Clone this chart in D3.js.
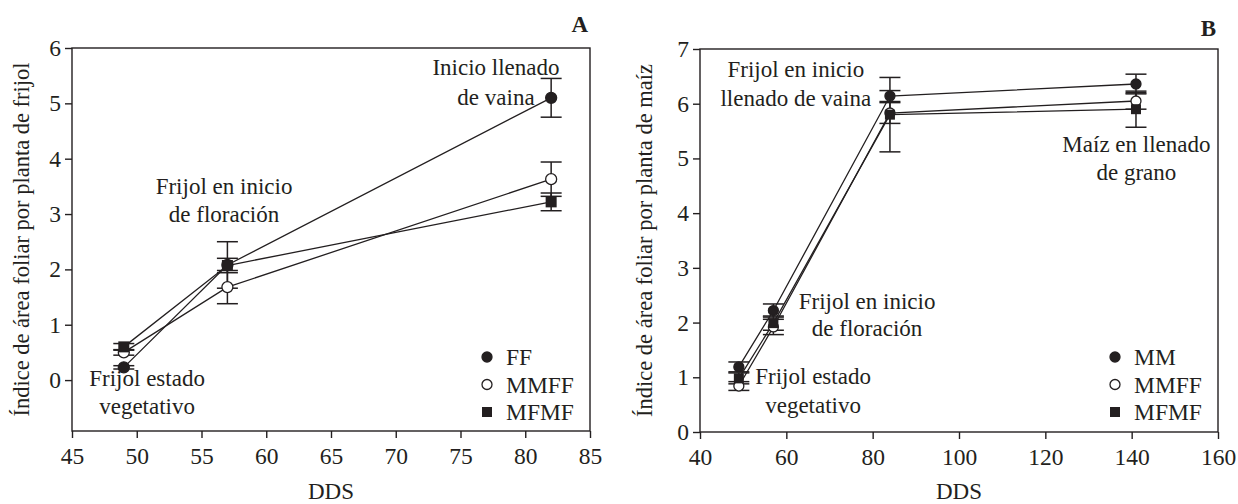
<!DOCTYPE html>
<html>
<head>
<meta charset="utf-8">
<script src="https://cdn.jsdelivr.net/npm/d3@7"></script>
<style>
  body { margin: 0; background: #fff; }
  svg { display: block; }
  text { font-family: "Liberation Serif", "Times New Roman", serif; fill: #231f20; }
  .axis path, .axis line { stroke: #231f20; stroke-width: 1.4; }
  .axis text { font-size: 23.5px; font-family: "Liberation Serif", serif; }
</style>
</head>
<body>
<svg id="chart" width="1238" height="504"></svg>
<script>
// ---- data, panel A (bean LAI) ----
var daysA = [49, 57, 82];
var ffA = [0.23, 2.08, 5.1],   ffErrA = [0.03, 0.42, 0.35];
var mmffA = [0.5, 1.68, 3.63], mmffErrA = [0.05, 0.3, 0.31];
var mfmfA = [0.6, 2.07, 3.22], mfmfErrA = [0.06, 0.13, 0.16];
var xTicksA = [45, 50, 55, 60, 65, 70, 75, 80, 85];
var yTicksA = [0, 1, 2, 3, 4, 5, 6];

// ---- data, panel B (maize LAI) ----
var daysB = [49, 57, 84, 141];
var mmB = [1.19, 2.22, 6.14, 6.36],   mmErrB = [0.09, 0.12, 0.1, 0.18];
var mmffB = [0.84, 1.92, 5.83, 6.05], mmffErrB = [0.08, 0.14, 0.19, 0.15];
var mfmfB = [0.98, 1.99, 5.8, 5.9],   mfmfErrB = [0.1, 0.13, 0.68, 0.33];
var xTicksB = [40, 60, 80, 100, 120, 140, 160];
var yTicksB = [0, 1, 2, 3, 4, 5, 6, 7];

var ink = "#231f20";
var svg = d3.select("#chart");

function drawPanel(cfg) {
  var g = svg.append("g");
  var x = d3.scaleLinear().domain(cfg.xDomain).range([cfg.left, cfg.right]);
  var y = d3.scaleLinear().domain(cfg.yDomain).range([cfg.bottom, cfg.top]);

  // frame
  g.append("rect")
    .attr("x", cfg.left).attr("y", cfg.top)
    .attr("width", cfg.right - cfg.left).attr("height", cfg.bottom - cfg.top)
    .attr("fill", "none").attr("stroke", ink).attr("stroke-width", 1.4);

  g.append("g").attr("class", "axis")
    .attr("transform", "translate(0," + cfg.bottom + ")")
    .call(d3.axisBottom(x).tickValues(cfg.xTicks).tickFormat(d3.format("d"))
      .tickSize(7).tickSizeOuter(0).tickPadding(9))
    .call(s => s.select(".domain").remove());

  g.append("g").attr("class", "axis")
    .attr("transform", "translate(" + cfg.left + ",0)")
    .call(d3.axisLeft(y).tickValues(cfg.yTicks).tickFormat(d3.format("d"))
      .tickSize(7).tickSizeOuter(0).tickPadding(4))
    .call(s => s.select(".domain").remove());

  // axis titles
  g.append("text")
    .attr("x", (cfg.left + cfg.right) / 2).attr("y", 499)
    .attr("text-anchor", "middle").style("font-size", "23px")
    .text("DDS");
  g.append("text")
    .attr("transform", "translate(" + cfg.yLabelX + "," + ((cfg.top + cfg.bottom) / 2) + ") rotate(-90)")
    .attr("text-anchor", "middle").style("font-size", "22.5px")
    .text(cfg.yLabel);

  // panel letter
  g.append("text")
    .attr("x", cfg.right - 2).attr("y", cfg.letterY)
    .attr("text-anchor", "end").style("font-size", "23px").style("font-weight", "bold")
    .text(cfg.letter);

  var line = d3.line().x(d => x(d[0])).y(d => y(d[1]));

  cfg.series.forEach(function(s) {
    var pts = cfg.days.map((d, i) => [d, s.values[i], s.err[i]]);
    g.append("path").datum(pts)
      .attr("d", line).attr("fill", "none").attr("stroke", ink).attr("stroke-width", 1.3);

    // error bars
    var eb = g.append("g").selectAll("g").data(pts).enter().append("g");
    eb.append("line")
      .attr("x1", d => x(d[0])).attr("x2", d => x(d[0]))
      .attr("y1", d => y(d[1] - d[2])).attr("y2", d => y(d[1] + d[2]))
      .attr("stroke", ink).attr("stroke-width", 1.5);
    [-1, 1].forEach(function(sign) {
      eb.append("line")
        .attr("x1", d => x(d[0]) - cfg.cap).attr("x2", d => x(d[0]) + cfg.cap)
        .attr("y1", d => y(d[1] + sign * d[2])).attr("y2", d => y(d[1] + sign * d[2]))
        .attr("stroke", ink).attr("stroke-width", 1.5);
    });
  });

  // markers on top
  cfg.series.forEach(function(s) {
    var pts = cfg.days.map((d, i) => [d, s.values[i]]);
    drawMarkers(g, pts.map(p => [x(p[0]), y(p[1])]), s.shape, cfg.markerR);
  });

  // legend
  cfg.series.forEach(function(s, i) {
    var ly = cfg.legendY + i * 27.5;
    drawMarkers(g, [[cfg.legendX, ly]], s.shape, 5);
    g.append("text")
      .attr("x", cfg.legendX + 19).attr("y", ly + 8)
      .style("font-size", "23.5px")
      .text(s.name);
  });

  // annotations
  cfg.notes.forEach(function(n) {
    var t = g.append("text")
      .attr("x", x(n.x)).attr("y", y(n.y))
      .attr("text-anchor", n.anchor).style("font-size", "23px");
    n.lines.forEach(function(l, i) {
      t.append("tspan").attr("x", x(n.x)).attr("dy", i ? n.gap : 0).text(l);
    });
  });
}

function drawMarkers(g, pts, shape, r) {
  if (shape === "square") {
    g.selectAll(null).data(pts).enter().append("rect")
      .attr("x", d => d[0] - r).attr("y", d => d[1] - r)
      .attr("width", 2 * r).attr("height", 2 * r)
      .attr("fill", ink);
  } else {
    g.selectAll(null).data(pts).enter().append("circle")
      .attr("cx", d => d[0]).attr("cy", d => d[1]).attr("r", r)
      .attr("fill", shape === "open" ? "#fff" : ink)
      .attr("stroke", ink).attr("stroke-width", 1.3);
  }
}

drawPanel({
  left: 72, right: 590, top: 48, bottom: 431,
  xDomain: [45, 85], yDomain: [-0.92, 6],
  xTicks: xTicksA, yTicks: yTicksA,
  days: daysA, cap: 10.5, markerR: 5.5,
  yLabel: "Índice de área foliar por planta de frijol", yLabelX: 29,
  letter: "A", letterY: 32,
  legendX: 487, legendY: 357,
  series: [
    {name: "FF", values: ffA, err: ffErrA, shape: "filled"},
    {name: "MMFF", values: mmffA, err: mmffErrA, shape: "open"},
    {name: "MFMF", values: mfmfA, err: mfmfErrA, shape: "square"}
  ],
  notes: [
    {x: 77.74, y: 5.51, anchor: "middle", gap: 30, lines: ["Inicio llenado", "de vaina"]},
    {x: 56.74, y: 3.36, anchor: "middle", gap: 28, lines: ["Frijol en inicio", "de floración"]},
    {x: 50.8, y: -0.11, anchor: "middle", gap: 28, lines: ["Frijol estado", "vegetativo"]}
  ]
});

drawPanel({
  left: 700, right: 1218, top: 49, bottom: 432,
  xDomain: [40, 160], yDomain: [0, 7],
  xTicks: xTicksB, yTicks: yTicksB,
  days: daysB, cap: 10.5, markerR: 5,
  yLabel: "Índice de área foliar por planta de maíz", yLabelX: 652,
  letter: "B", letterY: 36,
  legendX: 1115, legendY: 357,
  series: [
    {name: "MM", values: mmB, err: mmErrB, shape: "filled"},
    {name: "MMFF", values: mmffB, err: mmffErrB, shape: "open"},
    {name: "MFMF", values: mfmfB, err: mfmfErrB, shape: "square"}
  ],
  notes: [
    {x: 62.2, y: 6.49, anchor: "middle", gap: 29, lines: ["Frijol en inicio", "llenado de vaina"]},
    {x: 141.1, y: 5.12, anchor: "middle", gap: 28, lines: ["Maíz en llenado", "de grano"]},
    {x: 78.7, y: 2.25, anchor: "middle", gap: 27, lines: ["Frijol en inicio", "de floración"]},
    {x: 66.2, y: 0.88, anchor: "middle", gap: 29, lines: ["Frijol estado", "vegetativo"]}
  ]
});
</script>
</body>
</html>
